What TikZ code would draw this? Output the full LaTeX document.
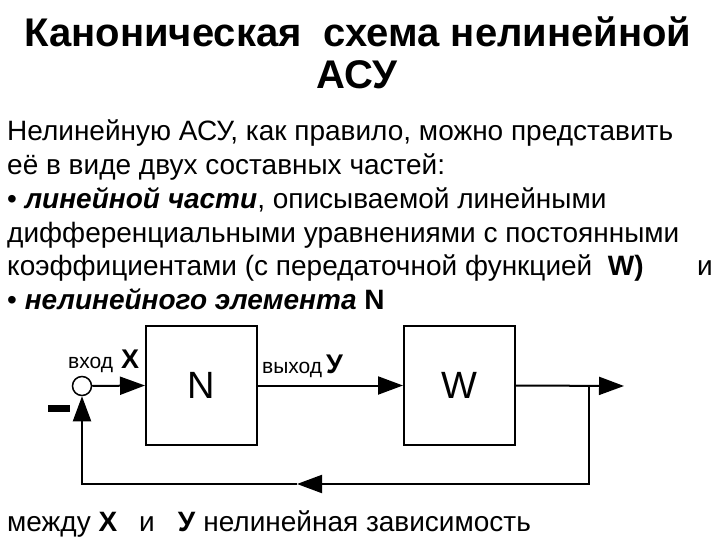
\documentclass[tikz,border=0pt]{standalone}
\usepackage{fontspec}
\setmainfont{Liberation Sans}
\usetikzlibrary{arrows.meta}
\begin{document}
\begin{tikzpicture}[x=1pt,y=-1pt,
  txt/.style={anchor=base west,inner sep=0pt,font=\fontsize{28}{34}\selectfont},
  ttl/.style={anchor=base,inner sep=0pt,font=\fontsize{40}{48}\selectfont\bfseries},
  blk/.style={draw,line width=2pt,minimum width=111pt,minimum height=119pt,inner sep=0pt,font=\fontsize{38}{40}\selectfont},
  sig/.style={line width=2pt},
  arr/.style={sig,-{Triangle[length=25pt,width=18pt]}},
  lbl/.style={anchor=base west,inner sep=0pt,font=\fontsize{21}{24}\selectfont},
  sym/.style={anchor=base west,inner sep=0pt,font=\fontsize{27}{30}\selectfont\bfseries},
]
\useasboundingbox (0,0) rectangle (720,540);
\fill[white] (0,0) rectangle (720,540);
% title
\node[ttl] (t1) at (358,47) {Каноническая\ \ схема нелинейной};
\node[ttl] (t2) at (357,89) {АСУ};
% body
\node[txt] (l1) at (7,141) {Нелинейную АСУ, как правило, можно представить};
\node[txt] (l2) at (7,175) {её в виде двух составных частей:};
\node[txt] (l3) at (7,208) {• \textbf{\textit{линейной части}}, описываемой линейными};
\node[txt] (l4) at (7,242) {дифференциальными уравнениями с постоянными};
\node[txt] (l5) at (7,275) {коэффициентами (с передаточной функцией\ \ \textbf{W)}};
\node[txt] (l5b) at (697,275) {и};
\node[txt] (l6) at (7,309) {• \textbf{\textit{нелинейного элемента} N}};
\node[txt] (l7) at (7,531) {между \textbf{X}\hspace{22pt}и\hspace{23pt}\textbf{У} нелинейная зависимость};
% diagram
\node[blk] (N) at (201.5,385.5) {N};
\node[blk] (W) at (459.5,385.5) {W};
\node[draw,circle,line width=1.5pt,minimum size=19pt,inner sep=0pt] (sum) at (82,386) {};
\node[fill,minimum width=22pt,minimum height=7pt,inner sep=0pt] (minus) at (59,408.5) {};
\node[lbl] (inl) at (68,368) {вход};
\node[sym] (inx) at (121,368) {X};
\node[lbl] (outl) at (262,373) {выход};
\node[sym] (outy) at (326,373) {У};
\coordinate (out) at (624,386);
\coordinate (br) at (589,386);
\coordinate (fbm) at (297,484);
\coordinate (fbl) at (82,484);
\draw[arr] (sum.east) -- (N.west);
\draw[arr] (N.east) -- (W.west);
\draw[arr] (W.east) -- (out);
\draw[arr] (br) |- (fbm);
\draw[arr] (fbm) -- (fbl) -- (sum.south);
\end{tikzpicture}
\end{document}
